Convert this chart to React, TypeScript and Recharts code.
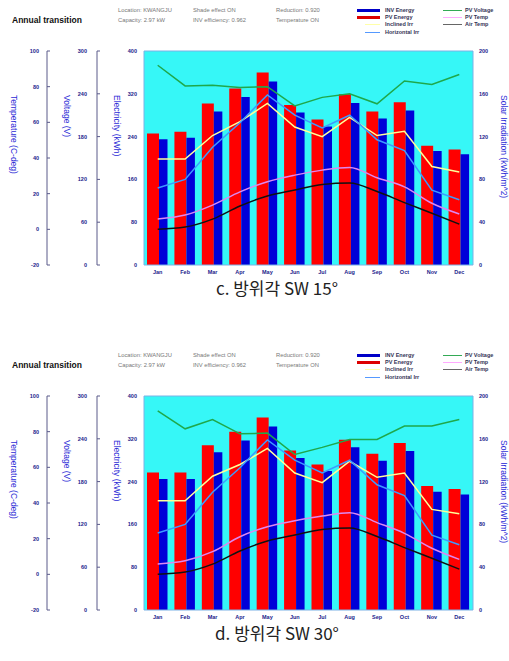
import { Bar, ComposedChart, Line, ReferenceLine, XAxis, YAxis, CartesianGrid } from "recharts";

const months = ["Jan", "Feb", "Mar", "Apr", "May", "Jun", "Jul", "Aug", "Sep", "Oct", "Nov", "Dec"];

// c. SW 15°
const pvEnergy15 = [246, 249, 302, 330, 360, 299, 272, 319, 287, 304, 223, 216];
const invEnergy15 = [235, 238, 287, 314, 343, 285, 259, 303, 274, 289, 213, 207];
const pvVoltage15 = [280, 251, 252, 249, 250, 223, 235, 240, 226, 258, 253, 267];
const inclinedIrr15 = [99, 99, 121, 134, 151, 129, 120, 138, 121, 125, 92, 87];
const pvTemp15 = [5.8, 8, 13.6, 21, 26.7, 30.4, 33.2, 34.7, 28.9, 23.8, 14.6, 8.6];

// d. SW 30°
const pvEnergy30 = [257, 257, 308, 333, 360, 298, 272, 318, 292, 312, 232, 226];
const invEnergy30 = [245, 245, 295, 317, 343, 284, 260, 304, 279, 297, 221, 216];
const pvVoltage30 = [279, 254, 267, 247, 248, 218, 228, 239, 239, 258, 258, 267];
const inclinedIrr30 = [102, 102, 125, 136, 151, 128, 119, 139, 124, 128, 94, 90];
const pvTemp30 = [5.8, 7.6, 12.7, 21.1, 26.7, 30, 32.7, 34.6, 29, 23, 14.6, 8.4];

// same site, same weather
const horizontalIrr = [72, 80, 110, 133, 159, 140, 128, 140, 117, 107, 70, 61];
const airTemp = [0.1, 1.3, 5.7, 13.1, 18.7, 22, 25.2, 26, 21.2, 15, 9, 2.9];

const tempTicks = [-20, 0, 20, 40, 60, 80, 100];
const voltTicks = [0, 60, 120, 180, 240, 300];
const elecTicks = [0, 80, 160, 240, 320, 400];
const irrTicks = [0, 40, 80, 120, 160, 200];

const font = "'Liberation Sans', Arial, sans-serif";
const tickColor = "#23238c";
const titleColor = "#2b2bd6";
const frame = "#7ab2e6";
const axisColor = "#5a5a8a";

function YTick({ x, y, payload, textAnchor, mark }: any) {
  return (
    <g>
      {mark !== undefined && <line x1={mark} x2={mark + 3} y1={y} y2={y} stroke={axisColor} />}
      <text x={x} y={y} dy={2} textAnchor={textAnchor} fontSize={5.5} fontWeight="bold" fill={tickColor} fontFamily={font}>
        {payload.value}
      </text>
    </g>
  );
}

function XTick({ x, y, payload }: any) {
  return (
    <text x={x} y={y} dy={4} textAnchor="middle" fontSize={5.5} fontWeight="bold" fill={tickColor} fontFamily={font}>
      {payload.value}
    </text>
  );
}

function AxisTitle({ tx, ty, text }: any) {
  return (
    <text
      x={tx}
      y={ty}
      transform={`rotate(90 ${tx} ${ty})`}
      textAnchor="start"
      dominantBaseline="middle"
      fontSize={8.5}
      fill={titleColor}
      fontFamily={font}
    >
      {text}
    </text>
  );
}

const small = { position: "absolute" as const, fontSize: 5.8, color: "#777", whiteSpace: "nowrap" as const, lineHeight: "7px" };
const legendText = { position: "absolute" as const, fontSize: 5.5, fontWeight: "bold" as const, color: "#333355", whiteSpace: "nowrap" as const, lineHeight: "7px" };

function Swatch({ x, y, w, h, color }: any) {
  return <div style={{ position: "absolute", left: x, top: y - h / 2, width: w, height: h, background: color }} />;
}

function Panel({ top, caption, pv, inv, volt, incl, pvTemp }: any) {
  const data = months.map((m, i) => ({
    month: m,
    pv: pv[i],
    inv: inv[i],
    volt: volt[i],
    incl: incl[i],
    horiz: horizontalIrr[i],
    pvTemp: pvTemp[i],
    air: airTemp[i],
  }));
  return (
    <div style={{ position: "absolute", left: 0, top, width: 509, height: 300 }}>
      <div style={{ position: "absolute", left: 0, top: 0 }}>
        <ComposedChart width={509} height={285} data={data} barGap={0} margin={{ top: 51, right: 0, bottom: 0, left: 0 }}>
          <CartesianGrid yAxisId="y1" horizontal={false} vertical={false} fill="#36f7f7" />
          <XAxis dataKey="month" interval={0} height={20} tickSize={0} tickMargin={5} tickLine={false} axisLine={{ stroke: frame }} tick={<XTick />} />
          <YAxis
            yAxisId="y1"
            width={47}
            domain={[0, 400]}
            ticks={elecTicks}
            tickSize={0}
            tickMargin={7}
            tickLine={false}
            axisLine={{ stroke: frame }}
            tick={(p: any) => <YTick {...p} />}
            label={<AxisTitle tx={116.5} ty={95} text="Electricity (kWh)" />}
          />
          <YAxis
            yAxisId="y2"
            width={50}
            domain={[0, 300]}
            ticks={voltTicks}
            tickSize={0}
            tickMargin={10}
            tickLine={false}
            axisLine={{ stroke: axisColor }}
            tick={(p: any) => <YTick {...p} mark={97} />}
            label={<AxisTitle tx={66.5} ty={95} text="Voltage (V)" />}
          />
          <YAxis
            yAxisId="y3"
            width={47}
            domain={[-20, 100]}
            ticks={tempTicks}
            tickSize={0}
            tickMargin={8}
            tickLine={false}
            axisLine={{ stroke: axisColor }}
            tick={(p: any) => <YTick {...p} mark={47} />}
            label={<AxisTitle tx={13} ty={95} text="Temperature (C-deg)" />}
          />
          <YAxis
            yAxisId="y4"
            orientation="right"
            width={36}
            domain={[0, 200]}
            ticks={irrTicks}
            tickSize={0}
            tickMargin={6}
            tickLine={false}
            axisLine={{ stroke: frame }}
            tick={(p: any) => <YTick {...p} />}
            label={<AxisTitle tx={503} ty={95} text="Solar Irradiation (kWh/m^2)" />}
          />
          <ReferenceLine yAxisId="y1" y={400} stroke={frame} />
          <Bar yAxisId="y1" dataKey="pv" name="PV Energy" fill="#ff0000" barSize={12} isAnimationActive={false} />
          <Bar yAxisId="y1" dataKey="inv" name="INV Energy" fill="#0000d8" barSize={8.5} isAnimationActive={false} />
          <Line yAxisId="y2" dataKey="volt" name="PV Voltage" stroke="#1fa84a" strokeWidth={1.5} dot={false} isAnimationActive={false} />
          <Line yAxisId="y4" dataKey="incl" name="Inclined Irr" stroke="#ffff99" strokeWidth={1.5} dot={false} isAnimationActive={false} />
          <Line yAxisId="y4" dataKey="horiz" name="Horizontal Irr" stroke="#3d9bff" strokeWidth={1.5} dot={false} isAnimationActive={false} />
          <Line yAxisId="y3" type="monotone" dataKey="pvTemp" name="PV Temp" stroke="#dd88f0" strokeWidth={1.5} dot={false} isAnimationActive={false} />
          <Line yAxisId="y3" type="monotone" dataKey="air" name="Air Temp" stroke="#111111" strokeWidth={1.5} dot={false} isAnimationActive={false} />
        </ComposedChart>
      </div>

      <div style={{ position: "absolute", left: 12, top: 15, fontSize: 8.5, fontWeight: "bold", color: "#111", whiteSpace: "nowrap" }}>
        Annual transition
      </div>
      <div style={{ ...small, left: 118, top: 7 }}>Location: KWANGJU</div>
      <div style={{ ...small, left: 118, top: 17 }}>Capacity: 2.97 kW</div>
      <div style={{ ...small, left: 193, top: 7 }}>Shade effect ON</div>
      <div style={{ ...small, left: 193, top: 17 }}>INV efficiency: 0.962</div>
      <div style={{ ...small, left: 276, top: 7 }}>Reduction: 0.920</div>
      <div style={{ ...small, left: 276, top: 17 }}>Temperature ON</div>

      <Swatch x={357} y={10.7} w={23} h={3} color="#0000c8" />
      <div style={{ ...legendText, left: 385, top: 7 }}>INV Energy</div>
      <Swatch x={357} y={17.7} w={23} h={3} color="#dd0000" />
      <div style={{ ...legendText, left: 385, top: 14 }}>PV Energy</div>
      <Swatch x={365} y={24.7} w={15} h={1} color="#ffffa8" />
      <div style={{ ...legendText, left: 385, top: 21 }}>Inclined Irr</div>
      <Swatch x={365} y={32} w={15} h={1} color="#5599ff" />
      <div style={{ ...legendText, left: 385, top: 28.5 }}>Horizontal Irr</div>
      <Swatch x={443} y={10.7} w={19} h={1} color="#33aa55" />
      <div style={{ ...legendText, left: 465, top: 7 }}>PV Voltage</div>
      <Swatch x={443} y={17.7} w={19} h={1} color="#ffaaff" />
      <div style={{ ...legendText, left: 465, top: 14 }}>PV Temp</div>
      <Swatch x={443} y={24.7} w={19} h={1.5} color="#666" />
      <div style={{ ...legendText, left: 465, top: 21 }}>Air Temp</div>

      <div
        style={{
          position: "absolute",
          left: 177,
          width: 200,
          top: 277,
          textAlign: "center",
          fontSize: 17,
          lineHeight: "21px",
          color: "#222",
          fontFamily: "'Noto Sans CJK KR', 'Noto Sans', sans-serif",
        }}
      >
        {caption}
      </div>
    </div>
  );
}

export default function App() {
  return (
    <div style={{ position: "absolute", left: 0, top: 0, width: 509, height: 661, background: "#fff", fontFamily: font }}>
      <Panel top={0} caption="c. 방위각 SW 15°" pv={pvEnergy15} inv={invEnergy15} volt={pvVoltage15} incl={inclinedIrr15} pvTemp={pvTemp15} />
      <Panel top={345} caption="d. 방위각 SW 30°" pv={pvEnergy30} inv={invEnergy30} volt={pvVoltage30} incl={inclinedIrr30} pvTemp={pvTemp30} />
    </div>
  );
}
